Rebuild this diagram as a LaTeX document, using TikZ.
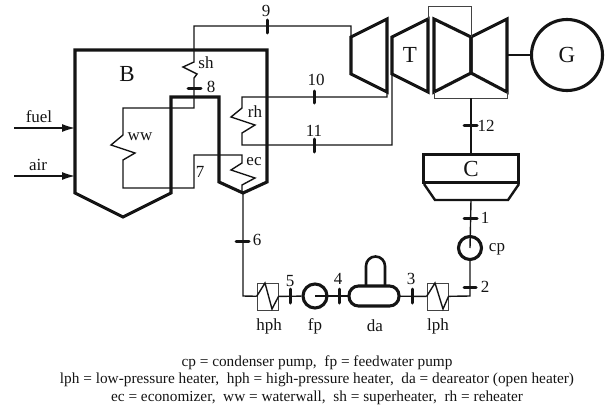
\documentclass[tikz,border=0pt]{standalone}
\usepackage{fontspec}
\setmainfont{Liberation Serif}
\usetikzlibrary{arrows.meta,positioning,calc}
\definecolor{ink}{RGB}{20,20,20}
\tikzset{
 pipe/.style={draw=ink,line width=1.4pt,line join=miter},
 wall/.style={draw=ink,line width=3.1pt,line join=miter},
 thinwall/.style={draw=ink!80,line width=1pt},
 tickmark/.style={draw=ink,line width=3pt,line cap=round,shorten >=1pt,shorten <=1pt},
 lbl/.style={inner sep=0pt,font=\fontsize{17}{17}\selectfont,text=ink},
 big/.style={inner sep=0pt,font=\fontsize{23}{23}\selectfont,text=ink},
 heater/.style={draw=ink!80,line width=0.9pt,minimum width=21pt,minimum height=27pt,inner sep=0pt},
 pump/.style={circle,draw=ink,line width=3.1pt,minimum size=23pt,inner sep=0pt},
}
\begin{document}
\begin{tikzpicture}[x=1pt,y=-1pt,>=Latex]
 \useasboundingbox (0,0) rectangle (609,412);
 % steam and water lines inside boiler
 \coordinate (t9) at (194,26);
 \coordinate (sh1) at (194,62);
 \coordinate (ww0) at (194,108);
 \draw[pipe] (351,36) -- (351,26) -- (t9) -- (sh1) -- ++(-11,5) -- ++(14,7) -- ++(-3,4) -- (ww0)
  -- (123,108) -- (123,135) -- ++(-12,10) -- ++(24,8) -- ++(-12,7) -- (123,188) -- (194,188)
  -- (194,155) -- (242,155) -- (242,163) -- ++(-11,7) -- ++(24,8) -- ++(-13,7) -- (242,193);
 % reheat lines
 \draw[pipe] (387,91) -- (387,97) -- (242,97) -- (242,108) -- ++(-11,9) -- ++(24,8) -- ++(-13,8)
  -- (242,145) -- (392,145) -- (392,74);
 % boiler
 \draw[wall] (75,50) -- (267,50) -- (267,182) -- (243,193) -- (219,182) -- (219,97) -- (171,97)
  -- (171,193) -- (123,217) -- (75,193) -- cycle;
 % turbines
 \draw[wall] (351,37) -- (387,19) -- (387,92) -- (351,74) -- cycle;
 \draw[wall] (392,37) -- (428,19) -- (428,92) -- (392,74) -- cycle;
 \draw[wall] (434,19) -- (471,37) -- (471,73) -- (434,92) -- cycle;
 \draw[wall] (471,37) -- (507,19) -- (507,92) -- (471,73) -- cycle;
 \draw[thinwall] (428,19) -- (428,7) -- (471,7) -- (471,37);
 \draw[thinwall] (434,92) -- (434,98) -- (507,98) -- (507,92);
 % generator
 \node[circle,draw=ink,line width=3.1pt,minimum size=71pt,inner sep=0pt] (gen) at (567,55){};
 \node[big] (gname) at (567,55){G};
 \coordinate (shaft) at (507,55);
 \draw[pipe] (shaft) -- (gen);
 % condenser
 \node[draw=ink,line width=3.1pt,minimum width=95pt,minimum height=28pt,inner sep=0pt] (cond) at (471,168.5){};
 \node[big] (cname) at (471,169){C};
 \draw[wall,line width=2.4pt] (424,184) -- (435,200) -- (508,200) -- (519,184);
 \coordinate (lpout) at (471,98);
 \draw[pipe] (lpout) -- (cond.north);
 % feedwater train
 \node[pump] (cp) at (470,248){};
 \node[pump,minimum size=24pt] (fp) at (315,296){};
 \node[heater] (lph) at (437.5,296.5){};
 \node[heater] (hph) at (267.5,296.5){};
 \draw[wall,rounded corners=9.5pt] (349,286) rectangle (399,306);
 \draw[wall,line width=2.6pt] (366,286) -- (366,266) arc[start angle=180,end angle=360,radius=9.5] -- (385,286);
 \node[inner sep=0pt,minimum width=50pt,minimum height=20pt] (da) at (374,296){};
 \coordinate (c2) at (470,296);
 \coordinate (condout) at (471,200);
 \coordinate (ecout) at (243,193);
 \coordinate (c6) at (243,296);
 \draw[pipe] (condout) -- (cp.center);
 \draw[pipe] (cp) -- (c2) -- (lph);
 \draw[pipe] (lph) -- (da);
 \draw[pipe] (da) -- (fp.center);
 \draw[pipe] (fp) -- (hph);
 \draw[pipe] (hph) -- (c6) -- (ecout);
 \draw[pipe] (lph.west) -- (435,283) -- (443,309) -- (lph.east);
 \draw[pipe] (hph.west) -- (265,283) -- (272,309) -- (hph.east);
 % state points
 \draw[tickmark] (463,218) -- (478,218);
 \draw[tickmark] (463,287) -- (477,287);
 \draw[tickmark] (412,288) -- (412,304);
 \draw[tickmark] (339,288) -- (339,304);
 \draw[tickmark] (290,288) -- (290,304);
 \draw[tickmark] (235,241) -- (250,241);
 \draw[tickmark] (187,88) -- (202,88);
 \draw[tickmark] (267,19) -- (267,34);
 \draw[tickmark] (314,90) -- (314,104);
 \draw[tickmark] (314,138) -- (314,153);
 \draw[tickmark] (463,125) -- (478,125);
 \node[lbl] (n1) at (485,218){1};
 \node[lbl] (n2) at (485,287){2};
 \node[lbl] (n3) at (411,279){3};
 \node[lbl] (n4) at (338,279){4};
 \node[lbl] (n5) at (290,281){5};
 \node[lbl] (n6) at (257,240){6};
 \node[lbl] (n7) at (200,172){7};
 \node[lbl] (n8) at (211,87){8};
 \node[lbl] (n9) at (266,11){9};
 \node[lbl] (n10) at (316,80){10};
 \node[lbl] (n11) at (314,131){11};
 \node[lbl] (n12) at (486,126){12};
 % components
 \node[big] (bname) at (127,74){B};
 \node[big] (tname) at (410,55){T};
 \node[lbl] (sh) at (206,63){sh};
 \node[lbl] (ww) at (140,137){ww};
 \node[lbl] (rh) at (255,112){rh};
 \node[lbl] (ec) at (254,162){ec};
 \node[lbl] (cpname) at (497,249){cp};
 \node[lbl] (hphname) at (269,326){hph};
 \node[lbl] (fpname) at (315,326){fp};
 \node[lbl] (daname) at (375,326){da};
 \node[lbl] (lphname) at (438,326){lph};
 % fuel and air
 \node[lbl] (fuel) at (39,117){fuel};
 \node[lbl] (air) at (38,165){air};
 \coordinate (fuel0) at (14,128);
 \coordinate (air0) at (14,176);
 \draw[pipe,-{Latex[length=13pt,width=8pt]}] (fuel0) -- (75,128);
 \draw[pipe,-{Latex[length=13pt,width=8pt]}] (air0) -- (75,176);
 % legend
 \node[lbl,font=\fontsize{15.3}{17.5}\selectfont,align=center] (legend) at (317,380){cp = condenser pump,\ \ fp = feedwater pump\\
  lph = low-pressure heater,\ \ hph = high-pressure heater,\ \ da = deareator (open heater)\\
  ec = economizer,\ \ ww = waterwall,\ \ sh = superheater,\ \ rh = reheater};
\end{tikzpicture}
\end{document}
